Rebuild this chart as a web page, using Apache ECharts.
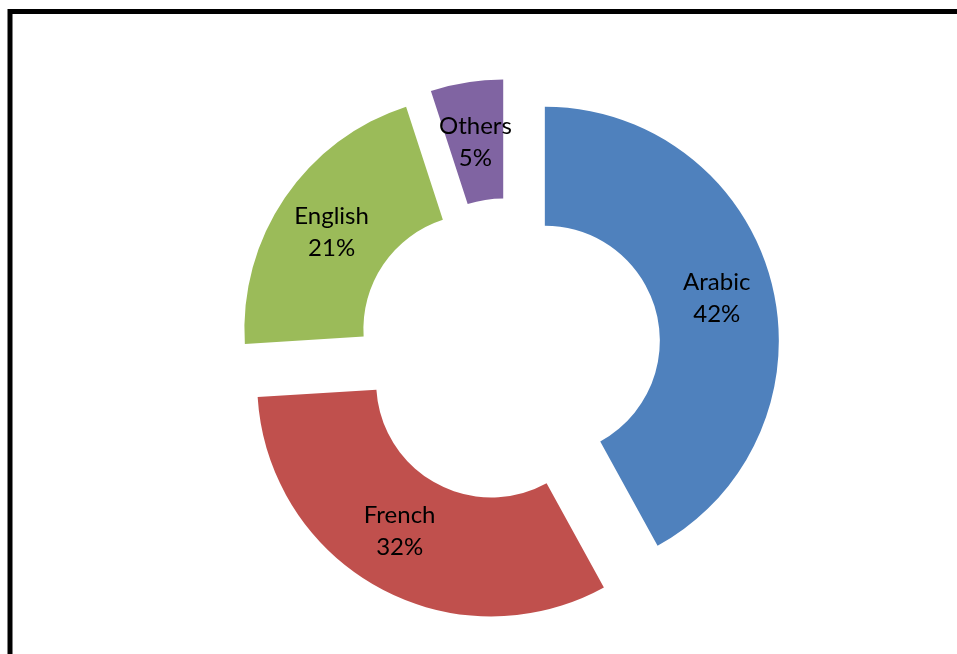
<!DOCTYPE html>
<html>
<head>
<meta charset="utf-8">
<script src="https://cdn.jsdelivr.net/npm/echarts@6/dist/echarts.min.js"></script>
<style>
  html, body { margin: 0; padding: 0; background: #fff; }
  #chart { width: 957px; height: 654px; }
</style>
</head>
<body>
<div id="chart"></div>
<script>
// Language shares, in percent
const languages = ['Arabic', 'French', 'English', 'Others'];
const shares = [42, 32, 21, 5];

const chart = echarts.init(document.getElementById('chart'), null, { renderer: 'canvas' });

// Slice styling kept separate from the values
const sliceStyle = {
  Arabic:  { color: '#4F81BD', nudge: [0, 2] },
  French:  { color: '#C0504D', nudge: [-6, -7] },
  English: { color: '#9BBB59', nudge: [0, 3] },
  Others:  { color: '#8064A2', nudge: [0, 4] }
};

const pieData = languages.map((name, i) => ({
  name: name,
  value: shares[i],
  selected: true,
  itemStyle: { color: sliceStyle[name].color }
}));

chart.setOption({
  animation: false,
  backgroundColor: '#ffffff',
  graphic: [{
    type: 'rect',
    shape: { x: 10, y: 11.5, width: 1200, height: 1000 },
    style: { fill: 'none', stroke: '#000', lineWidth: 5 },
    silent: true
  }],
  series: [{
    type: 'pie',
    center: [509, 350],
    radius: [115, 234],
    startAngle: 90,
    clockwise: true,
    selectedMode: 'multiple',
    selectedOffset: 37,
    silent: true,
    emphasis: { disabled: true },
    itemStyle: { borderWidth: 0 },
    label: {
      show: true,
      position: 'inside',
      formatter: p => p.name + '\n' + p.value + '%',
      color: '#000',
      fontFamily: 'Lato',
      fontSize: 24,
      lineHeight: 32,
      align: 'center'
    },
    labelLayout: params => {
      const n = sliceStyle[languages[params.dataIndex]].nudge;
      return { dx: n[0], dy: n[1] };
    },
    labelLine: { show: false },
    data: pieData
  }]
});
</script>
</body>
</html>
